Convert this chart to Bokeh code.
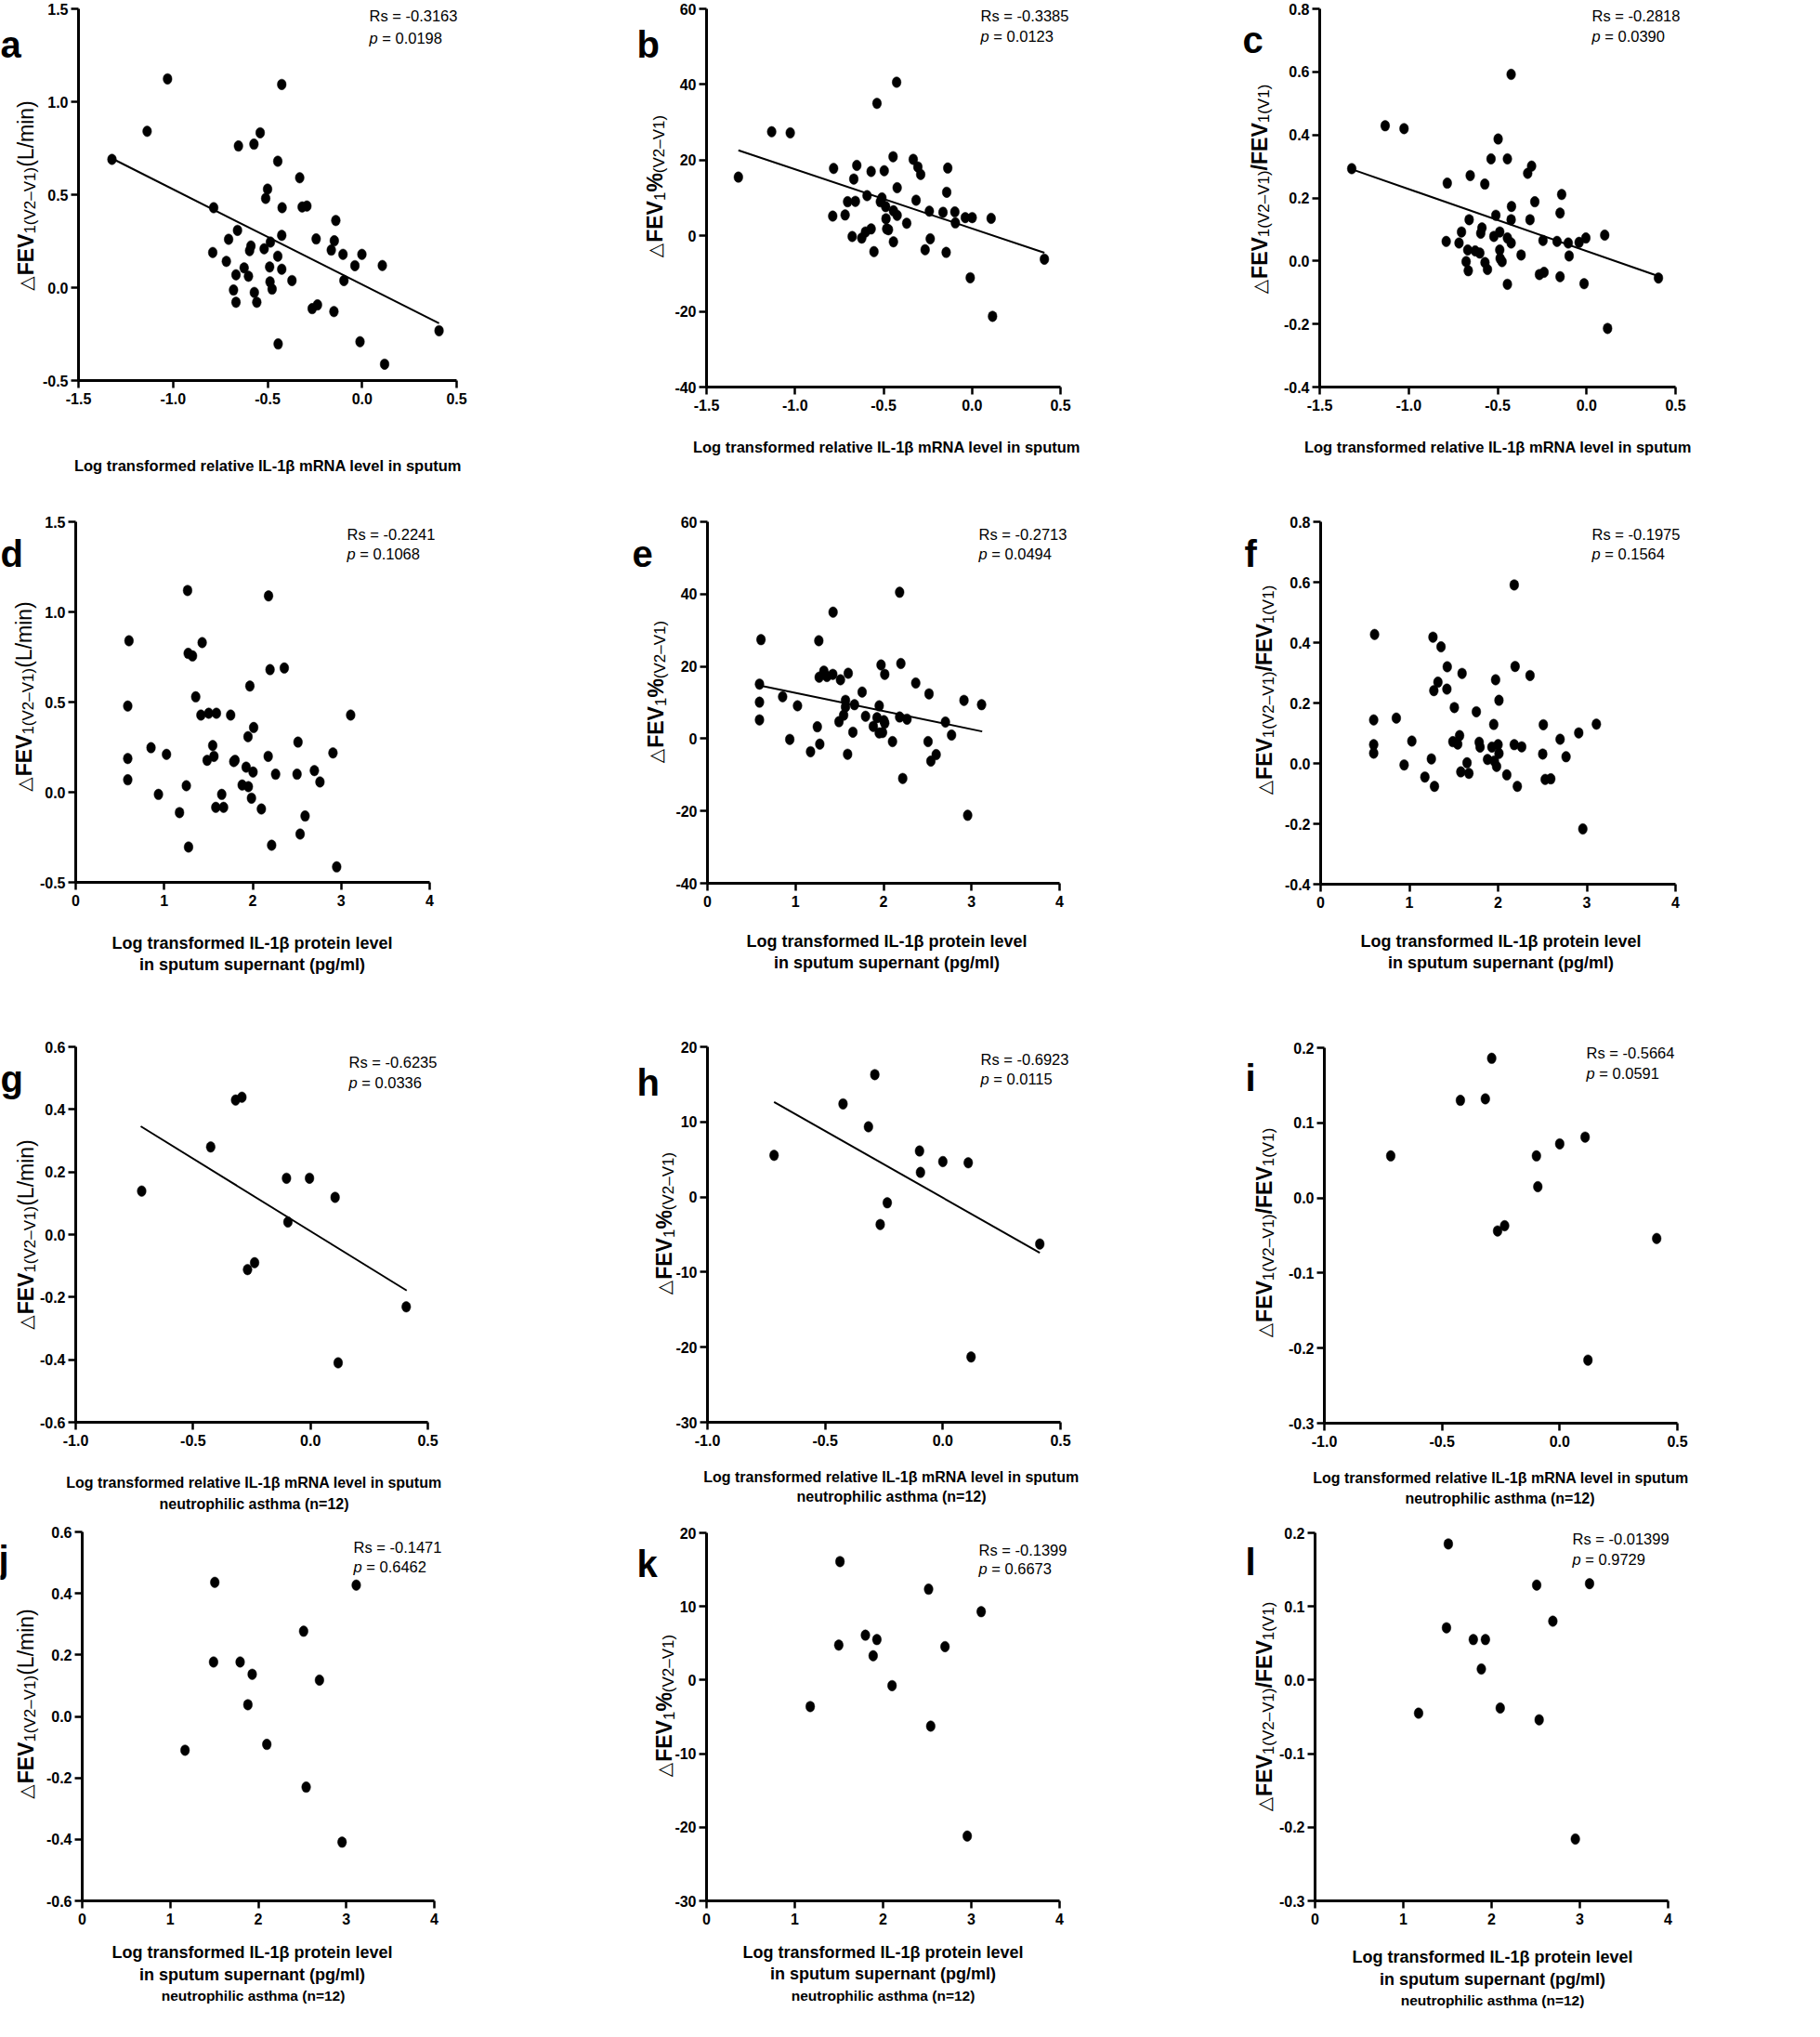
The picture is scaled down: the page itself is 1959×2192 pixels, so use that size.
import math
from bokeh.plotting import figure
from bokeh.models import Range1d, FixedTicker, PrintfTickFormatter, Label, ColumnDataSource
from bokeh.layouts import column, row
from bokeh.embed import file_html
from bokeh.resources import INLINE

# ---------------- data ----------------
a_x = [-1.323, -1.137, -1.029, -0.785, -0.790, -0.718, -0.706, -0.659, -0.654, -0.680, -0.667, -0.667, -0.624,
       -0.601, -0.595, -0.588, -0.572, -0.570, -0.557, -0.539, -0.510, -0.500, -0.518, -0.485, -0.489, -0.487,
       -0.476, -0.446, -0.446, -0.444, -0.425, -0.423, -0.425, -0.425, -0.371, -0.330, -0.317, -0.292, -0.264,
       -0.236, -0.243, -0.163, -0.149, -0.147, -0.139, -0.101, -0.096, -0.038, -0.011, -0.001, 0.107, 0.119, 0.407]
a_y = [0.690, 0.841, 1.123, 0.430, 0.189, 0.141, 0.260, 0.308, 0.762, -0.013, 0.069, -0.079, 0.106, 0.061, 0.199,
       0.224, 0.772, -0.026, -0.079, 0.833, 0.480, 0.530, 0.209, 0.245, 0.111, 0.031, -0.008, 0.169, 0.680, -0.303,
       1.093, 0.430, 0.281, 0.099, 0.038, 0.591, 0.434, 0.439, -0.113, -0.093, 0.262, 0.202, -0.129, 0.252, 0.361,
       0.179, 0.038, 0.118, -0.291, 0.179, 0.119, -0.412, -0.232]
a_fit_x = [-1.323, 0.407]
a_fit_y = [0.695, -0.192]

b_x = [-1.320, -1.132, -1.027, -0.782, -0.787, -0.717, -0.703, -0.668, -0.659, -0.651, -0.677, -0.623, -0.602,
       -0.593, -0.570, -0.570, -0.554, -0.537, -0.509, -0.496, -0.518, -0.488, -0.486, -0.482, -0.472, -0.446,
       -0.444, -0.444, -0.426, -0.423, -0.423, -0.369, -0.332, -0.306, -0.290, -0.316, -0.265, -0.241, -0.236,
       -0.164, -0.146, -0.143, -0.137, -0.097, -0.094, -0.038, 0.001, -0.010, 0.108, 0.116, 0.409]
b_y = [15.5, 27.5, 27.2, 17.8, 5.2, 5.5, 9.0, 15.0, 9.1, 18.6, -0.2, -0.6, 1.0, 10.6, 17.0, 1.8, -4.2, 35.0, 10.0,
       17.2, 9.0, 7.7, 4.5, 1.8, 1.6, 20.9, 6.6, -1.6, 40.6, 12.7, 5.4, 3.3, 20.2, 18.2, 16.2, 9.4, -3.7, 6.5, -0.8,
       6.2, -4.4, 11.5, 17.9, 6.3, 3.4, 4.8, 4.8, -11.1, 4.6, -21.3, -6.2]
b_fit_x = [-1.320, 0.409]
b_fit_y = [22.6, -4.5]

c_x = [-1.320, -1.132, -1.026, -0.783, -0.789, -0.717, -0.703, -0.654, -0.660, -0.668, -0.677, -0.665, -0.626,
       -0.600, -0.595, -0.588, -0.572, -0.571, -0.557, -0.537, -0.521, -0.510, -0.497, -0.488, -0.488, -0.486,
       -0.475, -0.445, -0.445, -0.445, -0.424, -0.422, -0.424, -0.424, -0.368, -0.331, -0.309, -0.318, -0.291,
       -0.265, -0.239, -0.245, -0.166, -0.149, -0.149, -0.140, -0.103, -0.098, -0.042, -0.004, -0.014, 0.102,
       0.118, 0.404]
c_y = [0.293, 0.429, 0.420, 0.247, 0.062, 0.057, 0.092, 0.271, 0.131, 0.035, -0.002, -0.031, 0.032, 0.025, 0.088,
       0.105, 0.244, -0.005, -0.027, 0.324, 0.078, 0.145, 0.387, 0.092, 0.035, 0.008, -0.002, 0.324, 0.073, -0.074,
       0.592, 0.173, 0.131, 0.057, 0.019, 0.278, 0.301, 0.131, 0.188, -0.043, -0.036, 0.065, 0.062, -0.050, 0.152,
       0.211, 0.057, 0.016, 0.059, 0.073, -0.072, 0.082, -0.214, -0.054]
c_fit_x = [-1.320, 0.404]
c_fit_y = [0.291, -0.048]

d_x = [0.602, 0.588, 0.588, 0.588, 0.851, 0.935, 1.026, 1.173, 1.250, 1.264, 1.271, 1.320, 1.275, 1.356, 1.415,
       1.429, 1.503, 1.485, 1.548, 1.562, 1.590, 1.583, 1.650, 1.671, 1.751, 1.786, 1.800, 1.881, 1.926, 1.947,
       1.951, 1.968, 1.986, 2.004, 2.011, 2.098, 2.179, 2.175, 2.196, 2.214, 2.259, 2.357, 2.501, 2.512, 2.536,
       2.592, 2.697, 2.760, 2.907, 2.949, 3.107]
d_y = [0.840, 0.478, 0.187, 0.069, 0.247, -0.012, 0.210, -0.113, 0.036, 1.119, 0.770, 0.756, -0.304, 0.529, 0.428,
       0.830, 0.438, 0.177, 0.259, 0.199, 0.438, -0.084, -0.012, -0.084, 0.428, 0.170, 0.177, 0.040, 0.139, 0.308,
       0.031, 0.589, -0.033, 0.112, 0.359, -0.093, 1.089, 0.199, 0.680, -0.294, 0.100, 0.689, 0.100, 0.278, -0.232,
       -0.132, 0.120, 0.057, 0.218, -0.414, 0.428]

e_x = [0.608, 0.591, 0.591, 0.591, 0.854, 1.023, 0.935, 1.171, 1.248, 1.276, 1.265, 1.269, 1.322, 1.357, 1.424,
       1.427, 1.494, 1.511, 1.547, 1.568, 1.568, 1.592, 1.599, 1.652, 1.670, 1.757, 1.796, 1.884, 1.926, 1.951,
       1.951, 1.972, 1.989, 2.004, 2.014, 2.014, 2.102, 2.183, 2.197, 2.183, 2.218, 2.267, 2.366, 2.506, 2.517,
       2.538, 2.598, 2.703, 2.773, 2.914, 2.956, 3.114]
e_y = [27.4, 15.1, 10.1, 5.2, 11.6, 9.1, -0.2, -3.6, 3.3, -1.5, 27.1, 17.0, 18.7, 17.2, 17.8, 35.0, 4.7, 16.3, 6.5,
       10.6, 8.8, -4.3, 18.1, 1.8, 9.4, 12.9, 6.2, 3.4, 5.8, 9.1, 1.6, 20.4, 1.7, 5.0, 4.3, 17.8, -0.8, 40.5, 20.8,
       6.0, -11.0, 5.4, 15.4, -0.8, 12.4, -6.2, -4.4, 4.6, 1.0, 10.6, -21.2, 9.4]
e_fit_x = [0.598, 3.121]
e_fit_y = [14.7, 2.0]

f_x = [0.608, 0.598, 0.598, 0.598, 0.853, 1.028, 0.941, 1.175, 1.248, 1.266, 1.276, 1.283, 1.322, 1.357, 1.427,
       1.423, 1.507, 1.490, 1.545, 1.566, 1.594, 1.580, 1.650, 1.671, 1.755, 1.787, 1.797, 1.881, 1.930, 1.951,
       1.958, 1.972, 1.983, 2.000, 2.010, 2.010, 2.098, 2.182, 2.192, 2.182, 2.217, 2.266, 2.360, 2.503, 2.510,
       2.531, 2.594, 2.699, 2.766, 2.909, 2.955, 3.108]
f_y = [0.427, 0.144, 0.062, 0.034, 0.150, 0.074, -0.005, -0.045, 0.015, 0.418, 0.241, -0.076, 0.269, 0.386, 0.320,
       0.246, 0.185, 0.072, 0.064, 0.092, 0.298, -0.028, 0.002, -0.033, 0.171, 0.070, 0.054, 0.013, 0.054, 0.129,
       0.008, 0.277, -0.010, 0.062, 0.033, 0.209, -0.038, 0.591, 0.321, 0.062, -0.076, 0.055, 0.291, 0.031, 0.128,
       -0.053, -0.051, 0.080, 0.022, 0.101, -0.217, 0.130]

g_x = [-0.719, -0.425, -0.319, -0.292, -0.268, -0.238, -0.102, -0.096, -0.004, 0.105, 0.118, 0.408]
g_y = [0.139, 0.280, 0.430, 0.439, -0.112, -0.090, 0.180, 0.040, 0.180, 0.119, -0.410, -0.231]
g_fit_x = [-0.723, 0.410]
g_fit_y = [0.346, -0.179]

h_x = [-0.717, -0.424, -0.316, -0.289, -0.266, -0.236, -0.099, -0.095, 0.000, 0.108, 0.120, 0.412]
h_y = [5.55, 12.4, 9.35, 16.3, -3.66, -0.77, 6.13, 3.28, 4.72, 4.56, -21.3, -6.26]
h_fit_x = [-0.717, 0.412]
h_fit_y = [12.65, -7.42]

i_x = [-0.718, -0.422, -0.316, -0.289, -0.264, -0.234, -0.099, -0.093, 0.000, 0.108, 0.120, 0.412]
i_y = [0.056, 0.130, 0.132, 0.186, -0.044, -0.037, 0.056, 0.015, 0.072, 0.081, -0.216, -0.054]

j_x = [1.168, 1.492, 1.506, 1.794, 1.882, 1.931, 2.097, 2.515, 2.544, 2.695, 2.952, 3.113]
j_y = [-0.110, 0.177, 0.436, 0.177, 0.038, 0.137, -0.091, 0.277, -0.230, 0.118, -0.409, 0.427]

k_x = [1.175, 1.498, 1.512, 1.800, 1.888, 1.930, 2.102, 2.516, 2.540, 2.702, 2.954, 3.112]
k_y = [-3.6, 4.75, 16.1, 6.1, 3.3, 5.5, -0.76, 12.35, -6.26, 4.54, -21.2, 9.29]

l_x = [1.173, 1.489, 1.510, 1.793, 1.884, 1.930, 2.098, 2.511, 2.539, 2.694, 2.949, 3.110]
l_y = [-0.045, 0.071, 0.185, 0.055, 0.015, 0.055, -0.038, 0.129, -0.054, 0.080, -0.216, 0.131]

rs_values = ["-0.3163", "-0.3385", "-0.2818", "-0.2241", "-0.2713", "-0.1975",
             "-0.6235", "-0.6923", "-0.5664", "-0.1471", "-0.1399", "-0.01399"]
p_values = ["0.0198", "0.0123", "0.0390", "0.1068", "0.0494", "0.1564",
            "0.0336", "0.0115", "0.0591", "0.6462", "0.6673", "0.9729"]
panel_letters = ["a", "b", "c", "d", "e", "f", "g", "h", "i", "j", "k", "l"]

x_mrna_ticks = [-1.5, -1.0, -0.5, 0.0, 0.5]
x_mrna_neu_ticks = [-1.0, -0.5, 0.0, 0.5]
x_prot_ticks = [0, 1, 2, 3, 4]
y_l_ticks = [-0.5, 0.0, 0.5, 1.0, 1.5]
y_pct_ticks = [-40, -20, 0, 20, 40, 60]
y_rat_ticks = [-0.4, -0.2, 0.0, 0.2, 0.4, 0.6, 0.8]
y_l_neu_ticks = [-0.6, -0.4, -0.2, 0.0, 0.2, 0.4, 0.6]
y_pct_neu_ticks = [-30, -20, -10, 0, 10, 20]
y_rat_neu_ticks = [-0.3, -0.2, -0.1, 0.0, 0.1, 0.2]

T_MRNA = "Log transformed relative IL-1β mRNA level in sputum"
T_PROT1 = "Log transformed IL-1β protein level"
T_PROT2 = "in sputum supernant (pg/ml)"
T_NEU = "neutrophilic asthma (n=12)"

# ---------------- styling / layout ----------------
SANS = "Liberation Sans"
SYM = "DejaVu Sans"
FIG_W = 647
COL_X = [8, 655, 1302]
ROWS = [(8, 530), (538, 570), (1108, 535), (1643, 540)]

REG_W = {'F': 611, 'E': 667, 'V': 667, '1': 556, '2': 556, '(': 333, ')': 333, '–': 556, 'L': 556,
         '/': 278, 'm': 833, 'i': 222, 'n': 556, '%': 889}
BOLD_W = {'F': 611, 'E': 667, 'V': 667, '1': 556, '2': 556, '(': 333, ')': 333, '–': 556, 'L': 611,
          '/': 278, 'm': 889, 'i': 278, 'n': 611, '%': 889}


def text_w(s, size, bold):
    t = BOLD_W if bold else REG_W
    return sum(t.get(ch, 556) for ch in s) * size / 1000.0


MAIN = 23
SUB = 17
RS_SIZE = 16.5
TICK_SIZE = "16px"
T1 = 16.5   # row 1 axis titles
T2 = 18     # protein titles
T3 = 16     # row 3 titles
T4 = 15.5   # small "neutrophilic asthma" line under protein titles


def ytitle_pieces(kind):
    pieces = [("△", SYM, 20, "normal", 0, 0.77 * 20 + 1),
              ("FEV", SANS, MAIN, "bold", 0, None)]
    if kind == "L":
        pieces += [("1(V2–V1)", SANS, SUB, "normal", 5, None), ("(L/min)", SANS, MAIN, "normal", 0, None)]
    elif kind == "pct":
        pieces += [("1", SANS, SUB, "normal", 5, None), ("%", SANS, MAIN, "bold", 0, None),
                   ("(V2–V1)", SANS, SUB, "normal", 5, None)]
    else:
        pieces += [("1(V2–V1)", SANS, SUB, "normal", 5, None), ("/FEV", SANS, MAIN, "bold", 0, None),
                   ("1(V1)", SANS, SUB, "normal", 5, None)]
    out = []
    for txt, font, size, style, shift, w in pieces:
        if w is None:
            w = text_w(txt, size, style == "bold")
        out.append((txt, font, size, style, shift, w))
    return out


PANELS = [
    dict(data=(a_x, a_y), fit=(a_fit_x, a_fit_y), col=0, row=0, frame=(92, 499, 17, 417),
         xr=(-1.5, 0.5, x_mrna_ticks, "%.1f"), yr=(-0.5, 1.5, y_l_ticks, "%.1f"),
         letter=(8, 55), rs=(405, 24, 48), xt=[(T_MRNA, 296, 508, T1)], yk="L", yt=(35, 218)),
    dict(data=(b_x, b_y), fit=(b_fit_x, b_fit_y), col=1, row=0, frame=(768, 1149, 17, 424),
         xr=(-1.5, 0.5, x_mrna_ticks, "%.1f"), yr=(-40, 60, y_pct_ticks, "%d"),
         letter=(693, 55), rs=(1063, 24, 46), xt=[(T_MRNA, 962, 488, T1)], yk="pct", yt=(712, 208)),
    dict(data=(c_x, c_y), fit=(c_fit_x, c_fit_y), col=2, row=0, frame=(1428, 1811, 17, 424),
         xr=(-1.5, 0.5, x_mrna_ticks, "%.1f"), yr=(-0.4, 0.8, y_rat_ticks, "%.1f"),
         letter=(1345, 50), rs=(1721, 24, 46), xt=[(T_MRNA, 1620, 488, T1)], yk="ratio", yt=(1363, 211)),
    dict(data=(d_x, d_y), fit=None, col=0, row=1, frame=(89, 470, 569, 957),
         xr=(0, 4, x_prot_ticks, "%d"), yr=(-0.5, 1.5, y_l_ticks, "%.1f"),
         letter=(8, 603), rs=(381, 582, 603), xt=[(T_PROT1, 279, 1022, T2), (T_PROT2, 279, 1045, T2)],
         yk="L", yt=(33, 757)),
    dict(data=(e_x, e_y), fit=(e_fit_x, e_fit_y), col=1, row=1, frame=(769, 1148, 569, 958),
         xr=(0, 4, x_prot_ticks, "%d"), yr=(-40, 60, y_pct_ticks, "%d"),
         letter=(688, 603), rs=(1061, 582, 603), xt=[(T_PROT1, 962, 1020, T2), (T_PROT2, 962, 1043, T2)],
         yk="pct", yt=(713, 752)),
    dict(data=(f_x, f_y), fit=None, col=2, row=1, frame=(1429, 1811, 569, 959),
         xr=(0, 4, x_prot_ticks, "%d"), yr=(-0.4, 0.8, y_rat_ticks, "%.1f"),
         letter=(1347, 603), rs=(1721, 582, 603), xt=[(T_PROT1, 1623, 1020, T2), (T_PROT2, 1623, 1043, T2)],
         yk="ratio", yt=(1368, 750)),
    dict(data=(g_x, g_y), fit=(g_fit_x, g_fit_y), col=0, row=2, frame=(89, 468, 1134, 1538),
         xr=(-1.0, 0.5, x_mrna_neu_ticks, "%.1f"), yr=(-0.6, 0.6, y_l_neu_ticks, "%.1f"),
         letter=(8, 1168), rs=(383, 1150, 1172), xt=[(T_MRNA, 281, 1603, T3), (T_NEU, 281, 1626, T3)],
         yk="L", yt=(35, 1336)),
    dict(data=(h_x, h_y), fit=(h_fit_x, h_fit_y), col=1, row=2, frame=(769, 1149, 1134, 1538),
         xr=(-1.0, 0.5, x_mrna_neu_ticks, "%.1f"), yr=(-30, 20, y_pct_neu_ticks, "%d"),
         letter=(693, 1172), rs=(1063, 1147, 1168), xt=[(T_MRNA, 967, 1597, T3), (T_NEU, 967, 1618, T3)],
         yk="pct", yt=(722, 1324)),
    dict(data=(i_x, i_y), fit=None, col=2, row=2, frame=(1433, 1813, 1135, 1539),
         xr=(-1.0, 0.5, x_mrna_neu_ticks, "%.1f"), yr=(-0.3, 0.2, y_rat_neu_ticks, "%.1f"),
         letter=(1348, 1167), rs=(1715, 1140, 1162), xt=[(T_MRNA, 1623, 1598, T3), (T_NEU, 1622, 1620, T3)],
         yk="ratio", yt=(1368, 1334)),
    dict(data=(j_x, j_y), fit=None, col=0, row=3, frame=(96, 475, 1656, 2053),
         xr=(0, 4, x_prot_ticks, "%d"), yr=(-0.6, 0.6, y_l_neu_ticks, "%.1f"),
         letter=(6, 1685), rs=(388, 1672, 1693),
         xt=[(T_PROT1, 279, 2108, T2), (T_PROT2, 279, 2132, T2), (T_NEU, 280, 2155, T4)],
         yk="L", yt=(35, 1841)),
    dict(data=(k_x, k_y), fit=None, col=1, row=3, frame=(768, 1148, 1657, 2053),
         xr=(0, 4, x_prot_ticks, "%d"), yr=(-30, 20, y_pct_neu_ticks, "%d"),
         letter=(693, 1690), rs=(1061, 1675, 1695),
         xt=[(T_PROT1, 958, 2108, T2), (T_PROT2, 958, 2131, T2), (T_NEU, 958, 2155, T4)],
         yk="pct", yt=(722, 1843)),
    dict(data=(l_x, l_y), fit=None, col=2, row=3, frame=(1423, 1803, 1657, 2053),
         xr=(0, 4, x_prot_ticks, "%d"), yr=(-0.3, 0.2, y_rat_neu_ticks, "%.1f"),
         letter=(1348, 1688), rs=(1700, 1663, 1685),
         xt=[(T_PROT1, 1614, 2113, T2), (T_PROT2, 1614, 2137, T2), (T_NEU, 1614, 2160, T4)],
         yk="ratio", yt=(1368, 1844)),
]


def add_text(p, x0, y0, X, Y, text, font, size, style="normal", align="left", angle=0.0):
    p.add_layout(Label(x=X - x0, y=Y - y0, x_units="canvas", y_units="canvas", text=text,
                       text_font=font, text_font_size=f"{size}px", text_font_style=style,
                       text_align=align, text_baseline="alphabetic", angle=angle, text_color="black"))


def style_axis(ax, ticks, fmt, standoff, loc, bounds):
    ax.ticker = FixedTicker(ticks=ticks)
    ax.formatter = PrintfTickFormatter(format=fmt)
    ax.fixed_location = loc
    ax.bounds = bounds
    ax.axis_line_width = 3
    ax.axis_line_color = "black"
    ax.major_tick_line_width = 2.5
    ax.major_tick_line_color = "black"
    ax.major_tick_out = 8
    ax.major_tick_in = 0
    ax.minor_tick_line_color = None
    ax.major_label_text_font = SANS
    ax.major_label_text_font_style = "bold"
    ax.major_label_text_font_size = TICK_SIZE
    ax.major_label_text_color = "black"
    ax.major_label_standoff = standoff
    ax.axis_label = None


def make_panel(idx, cfg):
    x0 = COL_X[cfg["col"]]
    y0, H = ROWS[cfg["row"]]
    left, right, top, bottom = cfg["frame"]
    L, R, T, B = left - x0, right - x0, top - y0, bottom - y0
    xs, xe, xt, xf = cfg["xr"]
    ys, ye, yt, yf = cfg["yr"]
    # the frame covers the whole canvas; the plotting box sits inside it
    kx = (xe - xs) / (R - L)
    ky = (ye - ys) / (B - T)
    x_range = Range1d(xs - L * kx, xe + (FIG_W - R) * kx)
    y_range = Range1d(ys - (H - B) * ky, ye + T * ky)
    p = figure(width=FIG_W, height=H, output_backend="svg", toolbar_location=None,
               x_range=x_range, y_range=y_range,
               min_border_left=0, min_border_right=0, min_border_top=0, min_border_bottom=0)
    p.outline_line_color = None
    p.xgrid.visible = False
    p.ygrid.visible = False
    p.background_fill_color = "white"
    p.border_fill_color = "white"
    style_axis(p.xaxis[0], xt, xf, 5, ys, (xs, xe))
    style_axis(p.yaxis[0], yt, yf, 3, xs, (ys, ye))

    xd, yd = cfg["data"]
    src = ColumnDataSource(dict(x=xd, y=yd))
    if cfg["fit"] is not None:
        fx, fy = cfg["fit"]
        p.line(x=fx, y=fy, line_width=2, line_color="black")
    p.ellipse(x="x", y="y", width=9.5, height=11.5, width_units="screen", height_units="screen",
              fill_color="black", line_color="black", line_width=0.5, source=src)

    lx, lb = cfg["letter"]
    add_text(p, x0, y0, lx, lb, panel_letters[idx], SANS, 40, "bold")
    rx, rb1, rb2 = cfg["rs"]
    add_text(p, x0, y0, rx, rb1, "Rs = " + rs_values[idx], SANS, RS_SIZE)
    add_text(p, x0, y0, rx, rb2, "p", SANS, RS_SIZE, "italic")
    add_text(p, x0, y0, rx + (0.556 + 0.278) * RS_SIZE, rb2, "= " + p_values[idx], SANS, RS_SIZE)
    for txt, cx, base, size in cfg["xt"]:
        add_text(p, x0, y0, cx, base, txt, SANS, size, "bold", align="center")
    bx, cy = cfg["yt"]
    pieces = ytitle_pieces(cfg["yk"])
    total = sum(pc[5] for pc in pieces)
    pos = cy + total / 2.0
    for txt, font, size, style, shift, w in pieces:
        add_text(p, x0, y0, bx + shift, pos, txt, font, size, style, angle=math.pi / 2)
        pos -= w
    return p


figs = [make_panel(i, c) for i, c in enumerate(PANELS)]
layout = column(row(*figs[0:3]), row(*figs[3:6]), row(*figs[6:9]), row(*figs[9:12]))

open("out.html", "w").write(file_html(layout, INLINE))
